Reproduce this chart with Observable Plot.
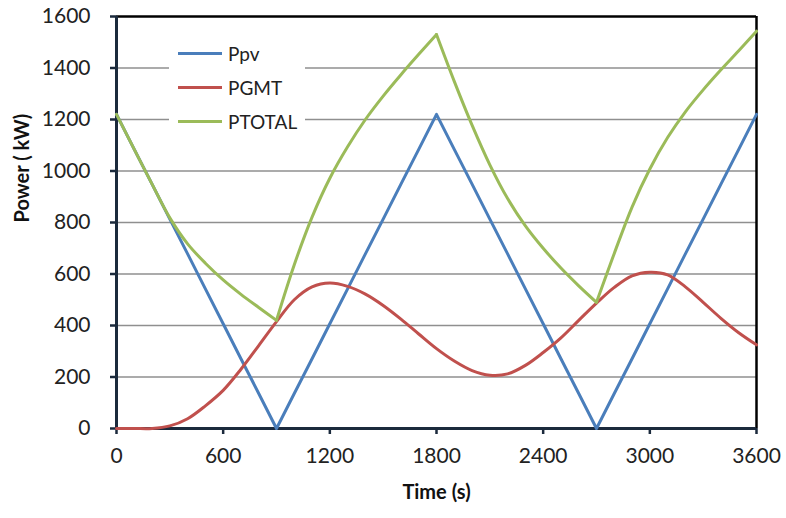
<!DOCTYPE html>
<html>
<head>
<meta charset="utf-8">
<script src="https://cdn.jsdelivr.net/npm/d3@7"></script>
<script src="https://cdn.jsdelivr.net/npm/@observablehq/plot@0.6"></script>
<style>
  html, body { margin: 0; padding: 0; background: #fff; }
  #wrap { position: relative; width: 786px; height: 518px; font-family: Lato, "Open Sans", sans-serif; }
  #legend { position: absolute; left: 169px; top: 36px; width: 136px; height: 102px; background: #fff; }
  .item { position: absolute; left: 9px; height: 20px; display: flex; align-items: center; font-size: 19px; color: #222; }
  .sw { width: 44px; height: 3px; margin-right: 6px; }
</style>
</head>
<body>
<div id="wrap"></div>
<script>
const time = [0,100,200,300,400,500,600,700,800,900,1000,1100,1200,1300,1400,1500,1600,1700,1800,1900,2000,2100,2200,2300,2400,2500,2600,2700,2800,2900,3000,3100,3200,3300,3400,3500,3600];
const ppv = [1220,1084,949,813,678,542,407,271,136,0,136,271,407,542,678,813,949,1084,1220,1084,949,813,678,542,407,271,136,0,136,271,407,542,678,813,949,1084,1220];
const pgmt = [0,0,0,10,38,88,148,230,322,415,500,550,565,552,522,478,425,367,310,262,225,207,212,245,295,352,420,487,548,593,607,597,550,490,428,372,325];
const ptotal = [1220,1084,949,818,717,642,577,521,470,420,636,821,972,1094,1200,1291,1374,1453,1530,1348,1178,1024,893,787,700,623,554,490,680,860,1008,1130,1230,1315,1393,1467,1543];
const seriesNames = ["Ppv", "PGMT", "PTOTAL"];
const seriesColors = ["#4a7ebb", "#c0504d", "#9bbb59"];
const xTicks = [0,600,1200,1800,2400,3000,3600];
const yTicks = [0,200,400,600,800,1000,1200,1400,1600];
const gridVals = [200,400,600,800,1000,1200,1400];
const kinks = [0,900,1800,2700,3600];
const xTitle = "Time (s)";
const yTitle = "Power ( kW)";

const seriesValues = [ppv, pgmt, ptotal];
const rows = [];
seriesNames.forEach((name, i) => {
  time.forEach((t, j) => rows.push({series: name, t, v: seriesValues[i][j], seg: 0}));
});
// PTOTAL split into pieces between its corners so the smooth curve keeps them sharp
const totalRows = [];
for (let k = 0; k < kinks.length - 1; k++) {
  time.forEach((t, j) => {
    if (t >= kinks[k] && t <= kinks[k + 1]) totalRows.push({series: "PTOTAL", t, v: ptotal[j], seg: k});
  });
}

const navy = "#1b2a3c";
const chart = Plot.plot({
  width: 786, height: 518,
  marginLeft: 116, marginRight: 30, marginTop: 16, marginBottom: 90,
  style: {fontFamily: "Lato, 'Open Sans', sans-serif", fontSize: "21px", color: "#222", background: "#fff"},
  x: {domain: [0, 3600]},
  y: {domain: [0, 1600]},
  color: {domain: seriesNames, range: seriesColors},
  marks: [
    Plot.ruleY(gridVals, {stroke: "#8f8f8f", strokeWidth: 1.3}),
    Plot.ruleY([1600], {stroke: "#000", strokeWidth: 2.5}),
    Plot.ruleX([3600], {stroke: "#000", strokeWidth: 2.5}),
    Plot.ruleX([0], {stroke: navy, strokeWidth: 3}),
    Plot.ruleY([0], {stroke: navy, strokeWidth: 3}),
    Plot.axisY({ticks: yTicks, tickFormat: d3.format("d"), tickSize: 6, tickPadding: 20, stroke: navy, strokeWidth: 2.5, label: null, fill: "#222"}),
    Plot.axisX({ticks: xTicks, tickFormat: d3.format("d"), tickSize: 6, tickPadding: 14, stroke: navy, strokeWidth: 2.5, label: null, fill: "#222"}),
    Plot.line(rows.filter(d => d.series === "Ppv"), {x: "t", y: "v", stroke: "series", strokeWidth: 3}),
    Plot.line(rows.filter(d => d.series === "PGMT"), {x: "t", y: "v", stroke: "series", strokeWidth: 3, curve: "catmull-rom"}),
    Plot.line(totalRows, {x: "t", y: "v", z: "seg", stroke: "series", strokeWidth: 3, curve: "catmull-rom"}),
    Plot.text([yTitle], {frameAnchor: "left", dx: -94, rotate: -90, fontWeight: "bold", fontSize: 20, fill: "#111"}),
    Plot.text([xTitle], {frameAnchor: "bottom", dy: 70, fontWeight: "bold", fontSize: 20, fill: "#111"})
  ]
});
const wrap = document.getElementById("wrap");
wrap.appendChild(chart);

const legend = document.createElement("div");
legend.id = "legend";
seriesNames.forEach((name, i) => {
  const item = document.createElement("div");
  item.className = "item";
  item.style.top = (7 + i * 34) + "px";
  const sw = document.createElement("div");
  sw.className = "sw";
  sw.style.background = seriesColors[i];
  item.appendChild(sw);
  item.appendChild(document.createTextNode(name));
  legend.appendChild(item);
});
wrap.appendChild(legend);
</script>
</body>
</html>
